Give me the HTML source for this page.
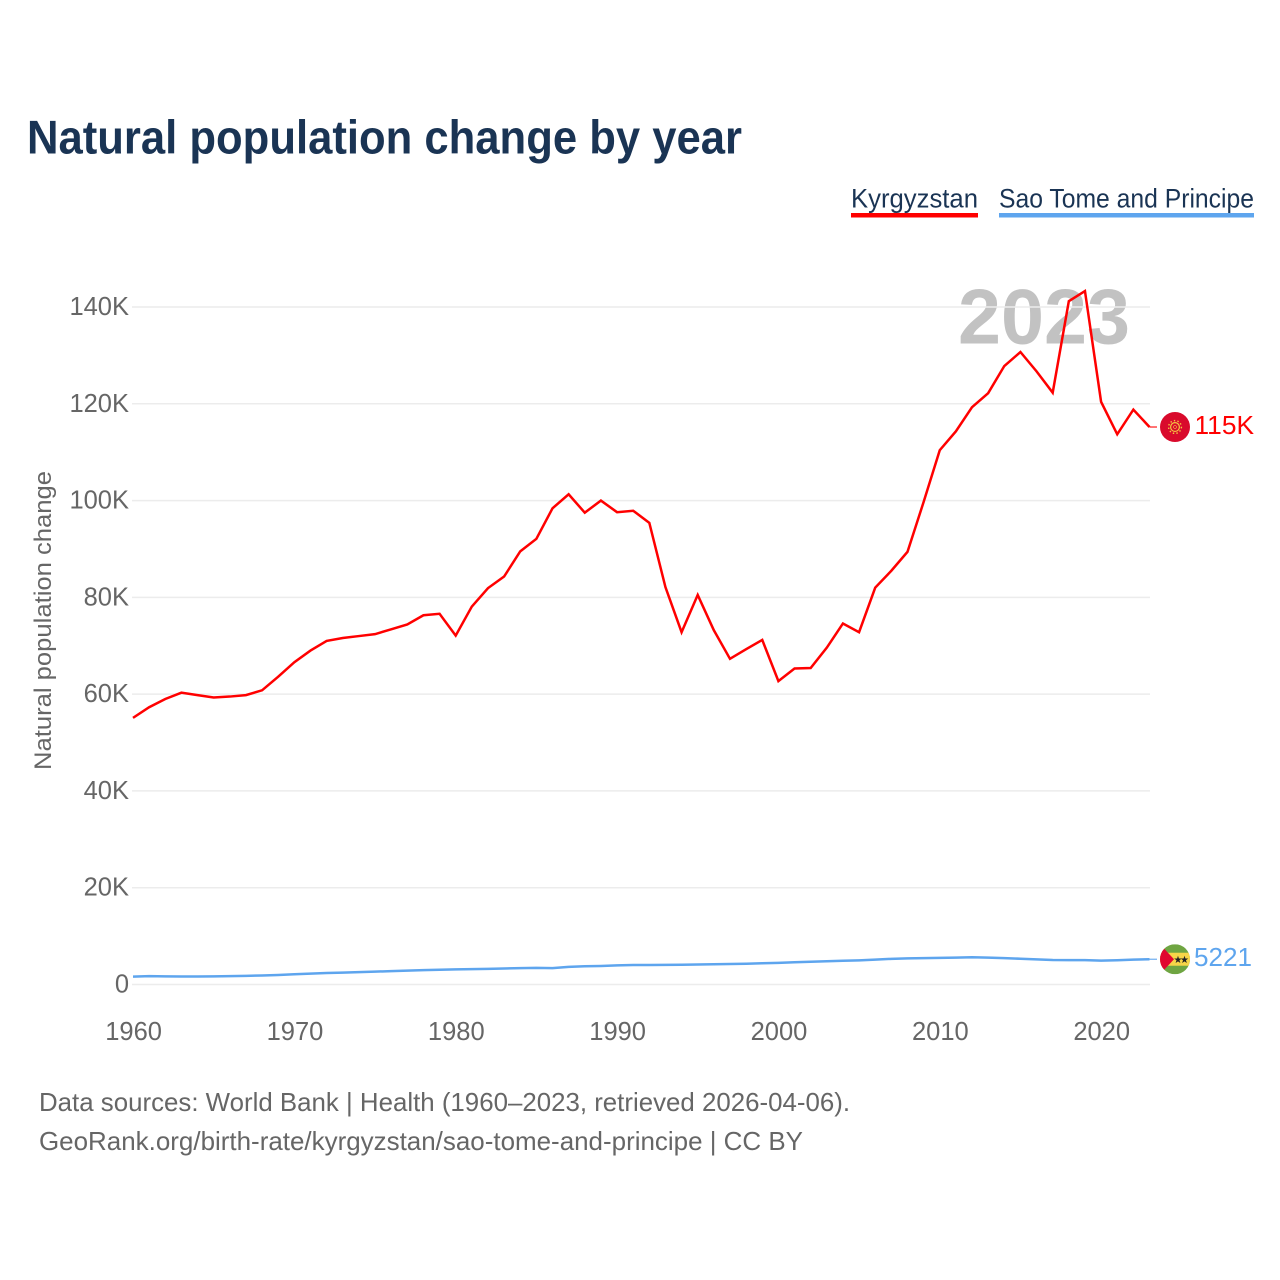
<!DOCTYPE html>
<html lang="en">
<head>
<meta charset="utf-8">
<title>Natural population change by year</title>
<style>
html,body{margin:0;padding:0;background:#fff;}
svg{display:block;font-family:"Liberation Sans",sans-serif;}
</style>
</head>
<body>
<svg id="chart" xmlns="http://www.w3.org/2000/svg" width="1280" height="1280" viewBox="0 0 1280 1280">
  <text x="27" y="153.5" font-size="47" font-weight="700" fill="#1a3454" textLength="715" lengthAdjust="spacingAndGlyphs">Natural population change by year</text>

  <g>
    <text x="851" y="207.5" font-size="27" fill="#1a3454" textLength="127" lengthAdjust="spacingAndGlyphs">Kyrgyzstan</text>
    <rect x="851" y="213" width="127" height="4.5" fill="#ff0000"/>
  </g>
  <g>
    <text x="999" y="207.5" font-size="27" fill="#1a3454" textLength="255" lengthAdjust="spacingAndGlyphs">Sao Tome and Principe</text>
    <rect x="999" y="213" width="255" height="4.5" fill="#5ea5ee"/>
  </g>

  <text x="958" y="343.5" font-size="78" font-weight="700" fill="#c2c2c2" textLength="172" lengthAdjust="spacingAndGlyphs">2023</text>

  <g id="grid"></g>
  <g id="yticks"></g>
  <g id="xticks"></g>

  <text transform="translate(51,620.5) rotate(-90)" text-anchor="middle" font-size="24.5" fill="#666666" textLength="299" lengthAdjust="spacingAndGlyphs">Natural population change</text>

  <polyline id="line-kg" fill="none" stroke="#ff0000" stroke-width="2.5" stroke-linejoin="miter"/>
  <polyline id="line-st" fill="none" stroke="#5ea5ee" stroke-width="2.5" stroke-linejoin="round"/>
  <line id="conn-kg" stroke="#ff0000" stroke-width="1.2" opacity="0.9"/>
  <line id="conn-st" stroke="#5ea5ee" stroke-width="1.2" opacity="0.9"/>

  <defs>
    <clipPath id="flag-clip"><circle cx="0" cy="0" r="15"/></clipPath>
  </defs>

  <g id="flag-kg">
    <circle r="15" fill="#d90a2c"/>
    <circle r="4.4" fill="none" stroke="#f5c542" stroke-width="1.2"/>
    <circle r="6.4" fill="none" stroke="#f5c542" stroke-width="1.4" stroke-dasharray="1.4 2.2"/>
    <circle r="1.5" fill="none" stroke="#f5c542" stroke-width="0.6"/>
  </g>
  <g id="flag-st" clip-path="url(#flag-clip)">
    <rect x="-15" y="-15" width="30" height="30" fill="#6fa542"/>
    <rect x="-15" y="-6.5" width="30" height="13" fill="#f7d548"/>
    <polygon points="-15,-15 -1,0 -15,15" fill="#e0062f"/>
    <text x="3" y="3.6" font-size="10" text-anchor="middle" fill="#222">★</text>
    <text x="9.5" y="3.6" font-size="10" text-anchor="middle" fill="#222">★</text>
  </g>

  <text id="end-kg" x="1194.5" font-size="26" fill="#ff0000" textLength="59.5" lengthAdjust="spacingAndGlyphs"></text>
  <text id="end-st" x="1194" font-size="26" fill="#5ea5ee" textLength="58" lengthAdjust="spacingAndGlyphs"></text>

  <text x="39" y="1111" font-size="26" fill="#666666" textLength="811" lengthAdjust="spacingAndGlyphs">Data sources: World Bank | Health (1960–2023, retrieved 2026-04-06).</text>
  <text x="39" y="1150" font-size="26" fill="#666666" textLength="764" lengthAdjust="spacingAndGlyphs">GeoRank.org/birth-rate/kyrgyzstan/sao-tome-and-principe | CC BY</text>
</svg>
<script>
const startYear = 1960;
const yTicks = [0, 20000, 40000, 60000, 80000, 100000, 120000, 140000];
const yTickLabels = ["0", "20K", "40K", "60K", "80K", "100K", "120K", "140K"];
const xTicks = [1960, 1970, 1980, 1990, 2000, 2010, 2020];
const kyrgyzstan = [
  55100, 57300, 59000, 60300, 59800, 59300, 59500, 59800, 60800, 63600,
  66600, 69000, 71000, 71600, 72000, 72400, 73400, 74400, 76300, 76600,
  72100, 78100, 81900, 84300, 89500, 92100, 98400, 101300, 97500, 100000,
  97600, 97900, 95400, 82100, 72800, 80500, 73200, 67300, 69300, 71200,
  62700, 65300, 65400, 69600, 74600, 72800, 82000, 85500, 89400, 99700,
  110400, 114300, 119300, 122200, 127800, 130700, 126700, 122300, 141200, 143300,
  120400, 113700, 118800, 115200
];
const saoTome = [
  1620, 1720, 1680, 1650, 1650, 1680, 1720, 1790, 1870, 1970,
  2110, 2250, 2370, 2460, 2560, 2660, 2760, 2870, 2970, 3050,
  3130, 3170, 3220, 3300, 3380, 3430, 3380, 3630, 3760, 3830,
  3960, 4030, 4040, 4050, 4080, 4140, 4180, 4230, 4300, 4380,
  4480, 4600, 4700, 4800, 4900, 4980, 5130, 5300, 5400, 5460,
  5500, 5560, 5620, 5560, 5440, 5330, 5180, 5060, 5030, 5030,
  4930, 5000, 5130, 5221
];

const SVG_NS = "http://www.w3.org/2000/svg";
function xScale(year) { return 133 + (year - 1960) * (1149.5 - 133) / 63; }
function yScale(v) { return 984.5 - v * (984.5 - 307) / 140000; }
function pointsFor(series) {
  return series.map(function (v, i) {
    return xScale(startYear + i).toFixed(2) + "," + yScale(v).toFixed(2);
  }).join(" ");
}

const gridGroup = document.getElementById("grid");
const yTickGroup = document.getElementById("yticks");
const xTickGroup = document.getElementById("xticks");

yTicks.forEach(function (t, i) {
  const gl = document.createElementNS(SVG_NS, "line");
  
  
  gl.setAttribute("x1", 132);
  gl.setAttribute("x2", 1150);
  gl.setAttribute("y1", yScale(t));
  gl.setAttribute("y2", yScale(t));
  gl.setAttribute("stroke", "#ececec");
  gl.setAttribute("stroke-width", 1.5);
  gridGroup.appendChild(gl);

  const lb = document.createElementNS(SVG_NS, "text");
  
  
  lb.setAttribute("x", 129);
  lb.setAttribute("y", yScale(t) + 8);
  lb.setAttribute("text-anchor", "end");
  lb.setAttribute("font-size", 25.5);
  lb.setAttribute("fill", "#666666");
  lb.textContent = yTickLabels[i];
  yTickGroup.appendChild(lb);
});

xTicks.forEach(function (t) {
  const lb = document.createElementNS(SVG_NS, "text");
  
  
  lb.setAttribute("x", xScale(t) + 0.6);
  lb.setAttribute("y", 1040);
  lb.setAttribute("text-anchor", "middle");
  lb.setAttribute("font-size", 25.5);
  lb.setAttribute("fill", "#666666");
  lb.textContent = String(t);
  xTickGroup.appendChild(lb);
});

document.getElementById("line-kg").setAttribute("points", pointsFor(kyrgyzstan));
document.getElementById("line-st").setAttribute("points", pointsFor(saoTome));

function placeEnd(series, key, text) {
  const last = series[series.length - 1];
  const y = yScale(last);
  const x0 = xScale(startYear + series.length - 1);
  const conn = document.getElementById("conn-" + key);
  conn.setAttribute("x1", x0);
  conn.setAttribute("x2", 1157);
  conn.setAttribute("y1", y);
  conn.setAttribute("y2", y);
  document.getElementById("flag-" + key).setAttribute("transform", "translate(1175," + y + ")");
  const lb = document.getElementById("end-" + key);
  lb.setAttribute("y", y + 6.8);
  lb.textContent = text;
}
placeEnd(kyrgyzstan, "kg", Math.round(kyrgyzstan[kyrgyzstan.length - 1] / 1000) + "K");
placeEnd(saoTome, "st", String(saoTome[saoTome.length - 1]));
</script>
</body>
</html>
